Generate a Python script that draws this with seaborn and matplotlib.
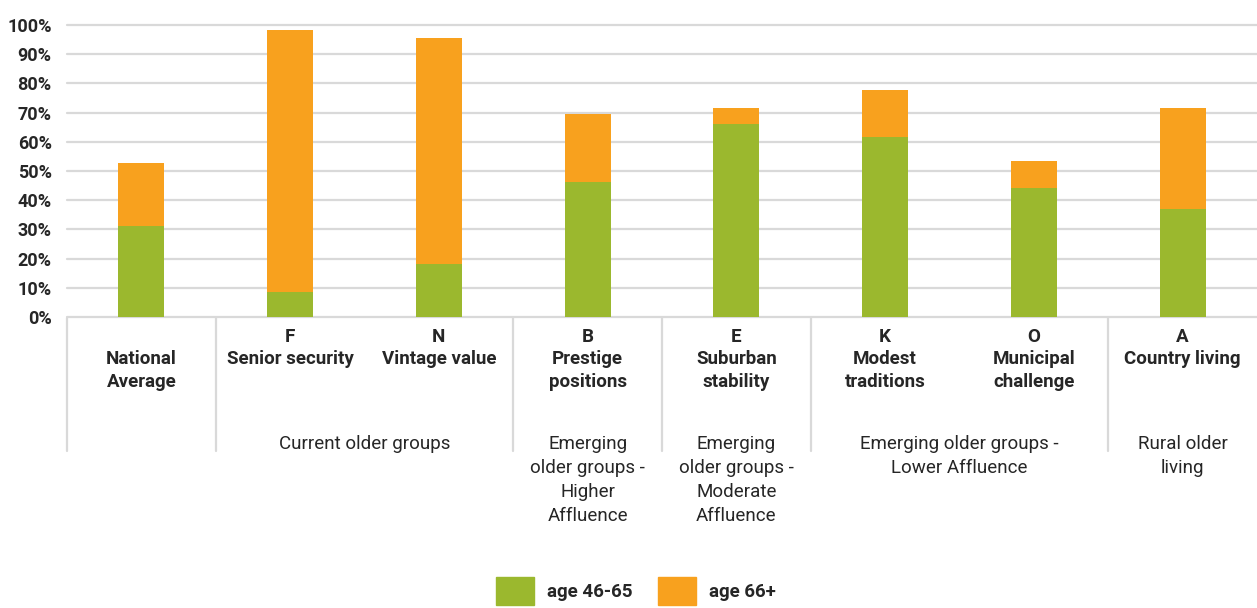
import numpy as np
import pandas as pd
import matplotlib.pyplot as plt
import matplotlib.patches as mpatches
from matplotlib.transforms import blended_transform_factory
import seaborn as sns

# chart data (share of each group, %)
segments = ['National Average', 'F', 'N', 'B', 'E', 'K', 'O', 'A']
codes = ['', 'F', 'N', 'B', 'E', 'K', 'O', 'A']
names = ['National\nAverage', 'Senior security', 'Vintage value', 'Prestige\npositions',
         'Suburban\nstability', 'Modest\ntraditions', 'Municipal\nchallenge', 'Country living']
age_46_65 = [31.3, 8.7, 18.0, 46.1, 66.2, 61.5, 44.1, 36.9]
age_66_plus = [21.4, 89.6, 77.5, 23.4, 5.4, 16.1, 9.3, 34.7]

group_labels = ['Current older groups', 'Emerging\nolder groups -\nHigher\nAffluence',
                'Emerging\nolder groups -\nModerate\nAffluence',
                'Emerging older groups -\nLower Affluence', 'Rural older\nliving']
group_centers = [1.5, 3, 4, 5.5, 7]
group_bounds = [-0.5, 0.5, 2.5, 3.5, 4.5, 6.5]

green = '#9BB82E'
orange = '#F8A11E'
grid_c = '#D9D9D9'

df = pd.DataFrame({'segment': segments, 'young': age_46_65, 'old': age_66_plus})
df['total'] = df['young'] + df['old']

sns.set_style('white')
plt.rcParams['font.family'] = ['Roboto', 'DejaVu Sans']

W, H = 1257, 608
fig = plt.figure(figsize=(W / 100, H / 100), dpi=100)
ax = fig.add_axes([67 / W, (H - 317) / H, (W - 67) / W, 292 / H])

sns.barplot(data=df, x='segment', y='total', order=segments, color=orange,
            saturation=1, width=0.31, errorbar=None, ax=ax, zorder=3, linewidth=0)
sns.barplot(data=df, x='segment', y='young', order=segments, color=green,
            saturation=1, width=0.31, errorbar=None, ax=ax, zorder=4, linewidth=0)

ax.set_xlim(-0.5, 7.5)
ax.set_ylim(0, 100)
ax.set_yticks(np.arange(0, 101, 10))
ax.set_yticklabels([f'{v}%' for v in range(0, 101, 10)], fontsize=13, fontweight='bold')
ax.tick_params(axis='y', length=0, pad=11)
ax.set_xticks([])
ax.set_xlabel('')
ax.set_ylabel('')
for s in ax.spines.values():
    s.set_visible(False)
for v in range(0, 101, 10):
    ax.axhline(v, color=grid_c, lw=1.6, zorder=1, clip_on=False)

# labels under the axis, positioned by pixel rows
tr = blended_transform_factory(ax.transData, fig.transFigure)


def row(py):
    return (H - py) / H


for i in range(len(segments)):
    if codes[i]:
        ax.text(i, row(337), codes[i], transform=tr, ha='center', va='center',
                fontsize=13.5, fontweight='bold')
    for j, line in enumerate(names[i].split('\n')):
        ax.text(i, row(359 + 23 * j), line, transform=tr, ha='center', va='center',
                fontsize=13.5, fontweight='bold')

for xc, lab in zip(group_centers, group_labels):
    for j, line in enumerate(lab.split('\n')):
        ax.text(xc, row(444 + 24 * j), line, transform=tr, ha='center', va='center',
                fontsize=13.5, color='#262626')

for xb in group_bounds:
    ax.plot([xb, xb], [row(318), row(451)], transform=tr, color=grid_c, lw=1.6,
            clip_on=False)

handles = [mpatches.Patch(color=green, label='age 46-65'),
           mpatches.Patch(color=orange, label='age 66+')]
fig.legend(handles=handles, loc='center', bbox_to_anchor=(636 / W, row(591)),
           ncol=2, frameon=False, prop={'weight': 'bold', 'size': 13.5},
           handlelength=2.0, handleheight=1.85, handletextpad=0.7, columnspacing=1.4)

fig.savefig('out.png', dpi=100)
